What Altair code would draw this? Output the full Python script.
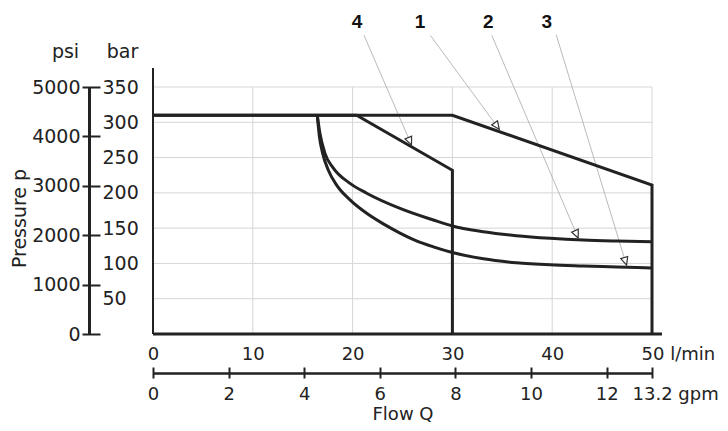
import altair as alt
import pandas as pd
import numpy as np

# ---------------- data ----------------
flow_ticks = [0, 10, 20, 30, 40, 50]                 # l/min
gpm_ticks = [0, 2, 4, 6, 8, 10, 12, 13.2]            # gpm
psi_ticks = [0, 1000, 2000, 3000, 4000, 5000]        # psi
bar_ticks = [50, 100, 150, 200, 250, 300, 350]       # bar
grid_x = [10, 20, 30, 40, 50]
grid_y = [50, 100, 150, 200, 250, 300, 350]

# characteristic curves (flow l/min, pressure bar)
c1_x = [0, 30, 50, 50]
c1_y = [310, 310, 211, 0]
c4_x = [0, 20.4, 30, 30]
c4_y = [310, 310, 232, 0]
c2_x = [16.46, 16.73, 17.23, 18.07, 19.74, 21.41, 24.75, 28.09, 30.0, 33.1, 36.4, 39.8, 43.1, 46.5, 50.0]
c2_y = [310, 284, 256, 235, 213.5, 199.5, 178, 161.5, 153, 145, 139.3, 135.6, 133.2, 131.8, 130.8]
c3_x = [16.46, 16.67, 17.0, 17.57, 18.4, 19.74, 21.41, 23.08, 24.75, 26.4, 28.09, 30.0, 33.1, 36.4, 39.8, 43.1, 46.5, 50.0]
c3_y = [310, 280, 256, 232, 211, 190, 171, 156, 143, 132, 123.5, 115.5, 106.5, 101, 98, 96.4, 95, 93.5]

# callouts
call_names = ["4", "1", "2", "3"]
call_x = [20.44, 26.75, 33.6, 39.45]
call_y = [433.6, 433.6, 433.6, 433.6]
lead_x0 = [21.15, 27.8, 33.95, 40.4]
lead_y0 = [423, 423, 423, 424]
tip_x = [25.9, 34.7, 42.6, 47.45]
tip_y = [268, 290, 136, 97.5]

frame_top = [377]    # bar, top of the left frame line
frame_right = [51]   # l/min, end of the bottom frame line

# ---------------- layout constants ----------------
W, H = 499, 247
INK = "#222222"
FONT = "DejaVu Sans"

XS = alt.Scale(domain=[0, 50], nice=False, zero=False)
YS = alt.Scale(domain=[0, 350], nice=False, zero=False)

X_AX = alt.Axis(
    orient="bottom", offset=39, domain=True, domainColor=INK, domainWidth=2.5,
    ticks=False, tickSize=0, grid=False, values=flow_ticks, format="d",
    labelExpr="datum.value == 50 ? '50 l/min' : datum.label",
    labelAlign={"condition": {"test": "datum.value == 50", "value": "left"}, "value": "center"},
    labelOffset={"condition": {"test": "datum.value == 50", "value": -11}, "value": 0},
    labelPadding=-28, labelBaseline="top", labelFont=FONT, labelFontSize=18,
    labelColor=INK, labelFlush=False, labelOverlap=False, title=None,
)
Y_AX = alt.Axis(
    orient="left", offset=64, domain=True, domainColor=INK, domainWidth=3,
    ticks=False, tickSize=0, grid=False, values=bar_ticks, format="d",
    labelAlign="left", labelBaseline="middle", labelPadding=-13,
    labelFont=FONT, labelFontSize=19, labelColor=INK, labelFlush=False, labelOverlap=False,
    title="bar", titleAngle=0, titleX=33, titleY=-30, titleAlign="center",
    titleBaseline="alphabetic", titleFont=FONT, titleFontSize=19,
    titleFontWeight="normal", titleColor=INK,
)
PSI_AX = alt.Axis(
    orient="left", offset=53, domain=False, ticks=True, tickSize=18, tickWidth=2,
    tickColor=INK, grid=False, values=psi_ticks, format="d", labelPadding=2,
    labelFont=FONT, labelFontSize=19, labelColor=INK, labelFlush=False, labelOverlap=False,
    title="Pressure p", titleAngle=270, titleX=-81, titleY=131, titleAlign="center",
    titleBaseline="middle", titleFont=FONT, titleFontSize=19, titleFontWeight="normal",
    titleColor=INK,
)
HEAD_AX = alt.Axis(
    orient="left", offset=0, domain=False, ticks=False, labels=False, grid=False,
    title="psi", titleAngle=0, titleX=-88, titleY=-30, titleAlign="center",
    titleBaseline="alphabetic", titleFont=FONT, titleFontSize=19,
    titleFontWeight="normal", titleColor=INK,
)
GPM_AX = alt.Axis(
    orient="bottom", offset=33, domain=False, ticks=True, tickSize=11, tickWidth=2,
    tickColor=INK, grid=False, values=gpm_ticks, format="~g",
    labelExpr="datum.value > 13 ? '13.2 gpm' : datum.label",
    labelAlign={"condition": {"test": "datum.value > 13", "value": "left"}, "value": "center"},
    labelOffset={"condition": {"test": "datum.value > 13", "value": -20}, "value": 0},
    labelPadding=7, labelBaseline="top", labelFont=FONT, labelFontSize=18,
    labelColor=INK, labelFlush=False, labelOverlap=False,
    title="Flow Q", titlePadding=2, titleFont=FONT, titleFontSize=18,
    titleFontWeight="normal", titleColor=INK,
)


def X(f):
    return alt.X(f, type="quantitative", scale=XS, axis=X_AX)


def Y(f):
    return alt.Y(f, type="quantitative", scale=YS, axis=Y_AX)


# ---------------- frames ----------------
df_vgrid = pd.DataFrame({"x": grid_x, "y0": 0, "y1": 350})
df_hgrid = pd.DataFrame({"y": grid_y, "x0": 0, "x1": 50})

vgrid = alt.Chart(df_vgrid).mark_rule(color="#d6d6d6", strokeWidth=1).encode(
    x=X("x"), y=Y("y0"), y2="y1")
hgrid = alt.Chart(df_hgrid).mark_rule(color="#d6d6d6", strokeWidth=1).encode(
    x=X("x0"), x2="x1", y=Y("y"))

df_left = pd.DataFrame({"x": [0], "y0": [0], "y1": frame_top})
df_bottom = pd.DataFrame({"y": [0], "x0": [0], "x1": frame_right})
left_line = alt.Chart(df_left).mark_rule(color=INK, strokeWidth=2).encode(
    x=X("x"), y=Y("y0"), y2="y1")
bottom_line = alt.Chart(df_bottom).mark_rule(color=INK, strokeWidth=3).encode(
    x=X("x0"), x2="x1", y=Y("y"))

rows = []
for name, xs, ys in [("1", c1_x, c1_y), ("4", c4_x, c4_y)]:
    for i, (a, b) in enumerate(zip(xs, ys)):
        rows.append({"s": name, "i": i, "x": a, "y": b})
df_poly = pd.DataFrame(rows)
rows = []
for name, xs, ys in [("2", c2_x, c2_y), ("3", c3_x, c3_y)]:
    for i, (a, b) in enumerate(zip(xs, ys)):
        rows.append({"s": name, "i": i, "x": a, "y": b})
df_smooth = pd.DataFrame(rows)

poly = alt.Chart(df_poly).mark_line(color=INK, strokeWidth=3, strokeJoin="miter").encode(
    x=X("x"), y=Y("y"), detail="s:N", order="i:Q")
smooth = alt.Chart(df_smooth).mark_line(color=INK, strokeWidth=3, interpolate="monotone").encode(
    x=X("x"), y=Y("y"), detail="s:N", order="i:Q")

df_lead = pd.DataFrame({"x0": lead_x0, "y0": lead_y0, "x1": tip_x, "y1": tip_y})
dxp = (df_lead.x1 - df_lead.x0) * W / 50.0
dyp = (df_lead.y0 - df_lead.y1) * H / 350.0
df_lead["ang"] = (360 - np.degrees(np.arctan2(dxp, dyp))) % 360

leaders = alt.Chart(df_lead).mark_rule(color="#a8a8a8", strokeWidth=0.8).encode(
    x=X("x0"), y=Y("y0"), x2="x1", y2="y1")
heads = alt.Chart(df_lead).mark_point(
    shape="M0,0L-0.45,-1L0.45,-1Z", filled=True, fill="white", stroke="#333333",
    strokeWidth=1.2, size=256, opacity=1,
).encode(x=X("x1"), y=Y("y1"), angle=alt.Angle("ang:Q", scale=None))

df_call = pd.DataFrame({"t": call_names, "x": call_x, "y": call_y})
callouts = alt.Chart(df_call).mark_text(
    font="Liberation Sans", fontWeight="bold", fontSize=19, baseline="alphabetic",
    align="center", color="#111111",
).encode(x=X("x"), y=Y("y"), text="t:N")

main = alt.layer(vgrid, hgrid, leaders, poly, smooth, left_line, bottom_line, heads, callouts)

psi_layer = alt.Chart(pd.DataFrame({"psi": psi_ticks})).mark_point(opacity=0).encode(
    y=alt.Y("psi:Q", scale=alt.Scale(domain=[0, 5000], nice=False, zero=False), axis=PSI_AX))
head_layer = alt.Chart(pd.DataFrame({"v": [0]})).mark_point(opacity=0).encode(
    y=alt.Y("v:Q", scale=alt.Scale(domain=[0, 1], nice=False), axis=HEAD_AX))
gpm_layer = alt.Chart(pd.DataFrame({"gpm": gpm_ticks})).mark_point(opacity=0).encode(
    x=alt.X("gpm:Q", scale=alt.Scale(domain=[0, 13.2], nice=False, zero=False), axis=GPM_AX))

chart = alt.layer(main, psi_layer, head_layer, gpm_layer).resolve_scale(
    x="independent", y="independent"
).properties(
    width=W, height=H,
    autosize=alt.AutoSizeParams(type="none"),
    padding={"left": 145, "top": 79, "right": 68, "bottom": 89},
    background="white",
).configure_view(stroke=None)

chart.save("out.html", embed_options={"renderer": "svg", "actions": False})
